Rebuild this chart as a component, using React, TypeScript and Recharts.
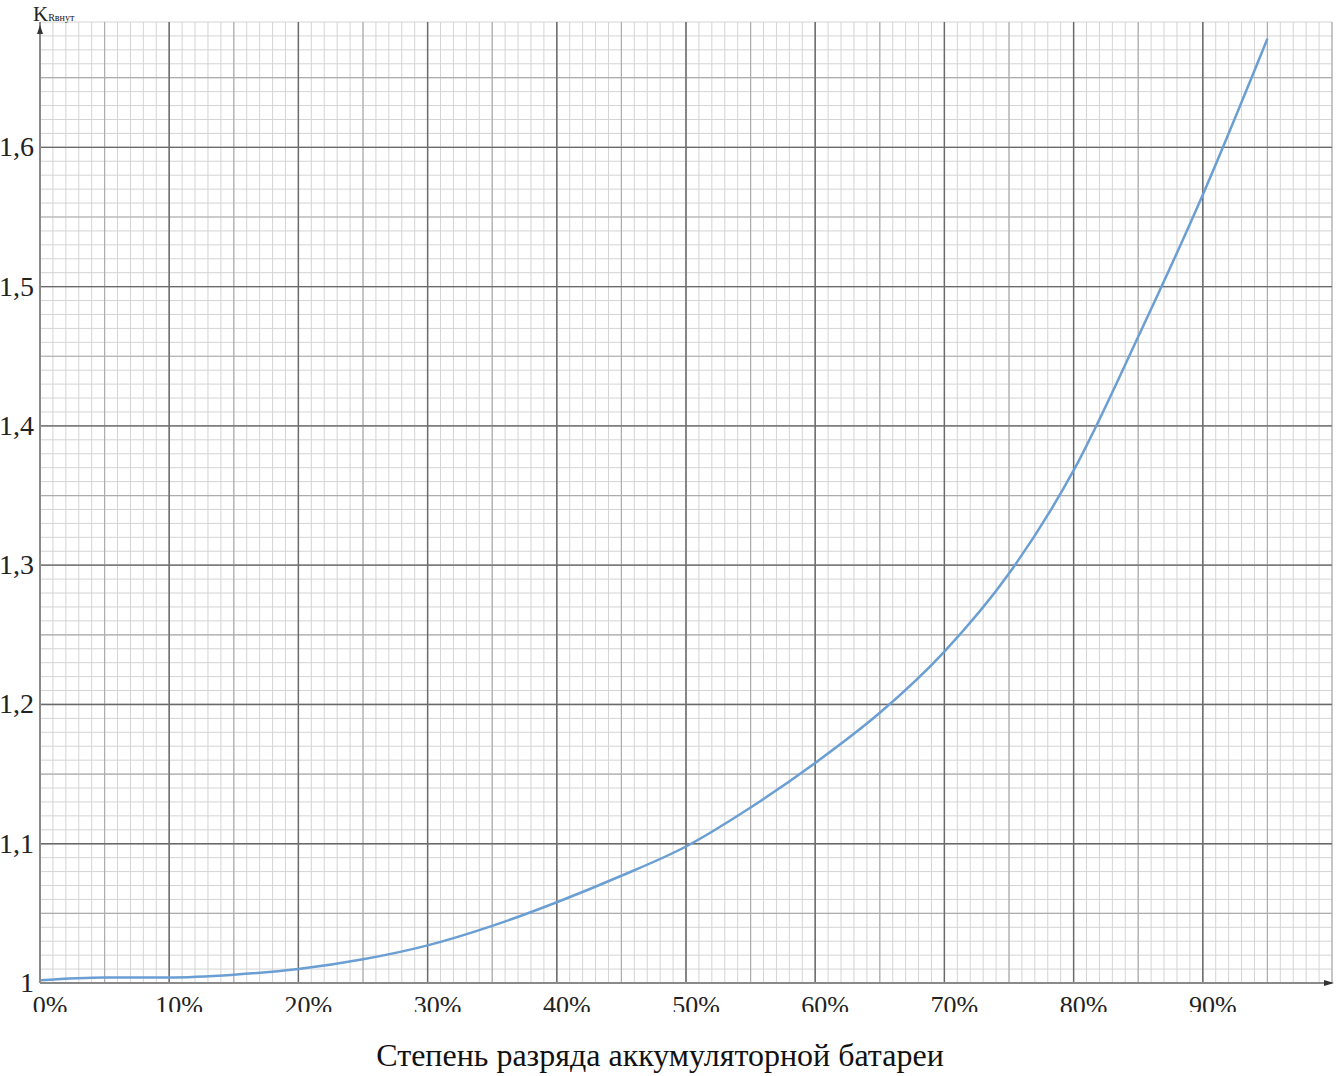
import { LineChart, Line, XAxis, YAxis, CartesianGrid } from 'recharts'

// степень разряда, %
const discharge = [0, 5, 10, 15, 20, 25, 30, 35, 40, 45, 50, 55, 60, 65, 70, 75, 80, 85, 90, 95]
// коэффициент K Rвнут
const kValues = [
  1.002, 1.004, 1.004, 1.006, 1.01, 1.017, 1.027, 1.041, 1.058, 1.077,
  1.098, 1.126, 1.158, 1.194, 1.238, 1.294, 1.368, 1.464, 1.566, 1.678,
]

const xTicks = [0, 10, 20, 30, 40, 50, 60, 70, 80, 90]
const yTicks = [1, 1.1, 1.2, 1.3, 1.4, 1.5, 1.6]

const data = discharge.map((d, i) => ({ d, k: kValues[i] }))

const X_MAX = 100
const Y_MIN = 1
const Y_MAX = 1.69

const range = (from: number, to: number, step: number) => {
  const out: number[] = []
  for (let v = from; v <= to + 1e-9; v += step) out.push(Math.round(v * 1000) / 1000)
  return out
}

const FONT = '"Liberation Serif", "DejaVu Serif", serif'

const XTick = (props: any) => {
  const { x, y, payload, index } = props
  const id = `xclip${index}`
  return (
    <g>
      <clipPath id={id}>
        <rect x={x - 40} y={y} width={100} height={21} />
      </clipPath>
      <text
        x={x + 10}
        y={y + 23}
        textAnchor="middle"
        fontFamily={FONT}
        fontSize={26}
        fill="#222"
        clipPath={`url(#${id})`}
      >
        {payload.value}%
      </text>
    </g>
  )
}

const YTick = (props: any) => {
  const { x, y, payload } = props
  const label = payload.value === 1 ? '1' : payload.value.toFixed(1).replace('.', ',')
  return (
    <text x={x + 2} y={y + 9} textAnchor="end" fontFamily={FONT} fontSize={28} fill="#222">
      {label}
    </text>
  )
}

const YLabel = (props: any) => {
  const { x, y, width } = props.viewBox
  const ax = x + width
  return (
    <g>
      <polygon points={`${ax},${y + 3} ${ax - 3},${y + 12} ${ax + 3},${y + 12}`} fill="#333" />
      <text x={ax - 7} y={y - 1} fontFamily={FONT} fontSize={21} fill="#222">
        K
        <tspan fontSize={10}>Rвнут</tspan>
      </text>
    </g>
  )
}

const XLabel = (props: any) => {
  const { x, y, width } = props.viewBox
  const ax = x + width
  return (
    <g>
      <polygon points={`${ax + 2},${y} ${ax - 8},${y - 3} ${ax - 8},${y + 3}`} fill="#333" />
      <text x={660} y={y + 83} textAnchor="middle" fontFamily={FONT} fontSize={32} fill="#111">
        Степень разряда аккумуляторной батареи
      </text>
    </g>
  )
}

export default function App() {
  return (
    <div style={{ position: 'absolute', left: 0, top: 0, width: 1337, height: 1076, background: '#fff' }}>
      <LineChart width={1337} height={1076} data={data} margin={{ top: 22, right: 5, bottom: 0, left: 0 }}>
        <CartesianGrid
          horizontalValues={range(Y_MIN, Y_MAX, 0.01)}
          verticalValues={range(0, X_MAX, 1)}
          stroke="#d4d4d4"
          strokeWidth={1}
        />
        <CartesianGrid
          horizontalValues={range(Y_MIN, Y_MAX, 0.05)}
          verticalValues={range(0, X_MAX, 5)}
          stroke="#adadad"
          strokeWidth={1.2}
        />
        <CartesianGrid
          horizontalValues={range(Y_MIN, 1.6, 0.1)}
          verticalValues={range(0, 90, 10)}
          stroke="#6a6a6a"
          strokeWidth={1.4}
        />
        <XAxis
          dataKey="d"
          type="number"
          domain={[0, X_MAX]}
          ticks={xTicks}
          tick={<XTick />}
          tickLine={false}
          axisLine={{ stroke: '#8a8a8a', strokeWidth: 2 }}
          height={93}
          label={<XLabel />}
          interval={0}
        />
        <YAxis
          dataKey="k"
          type="number"
          domain={[Y_MIN, Y_MAX]}
          ticks={yTicks}
          tick={<YTick />}
          tickLine={false}
          axisLine={{ stroke: '#8a8a8a', strokeWidth: 2 }}
          width={40}
          label={<YLabel />}
          interval={0}
          allowDataOverflow
        />
        <Line
          type="monotone"
          dataKey="k"
          stroke="#6b9fd3"
          strokeWidth={2.5}
          dot={false}
          isAnimationActive={false}
        />
      </LineChart>
    </div>
  )
}
